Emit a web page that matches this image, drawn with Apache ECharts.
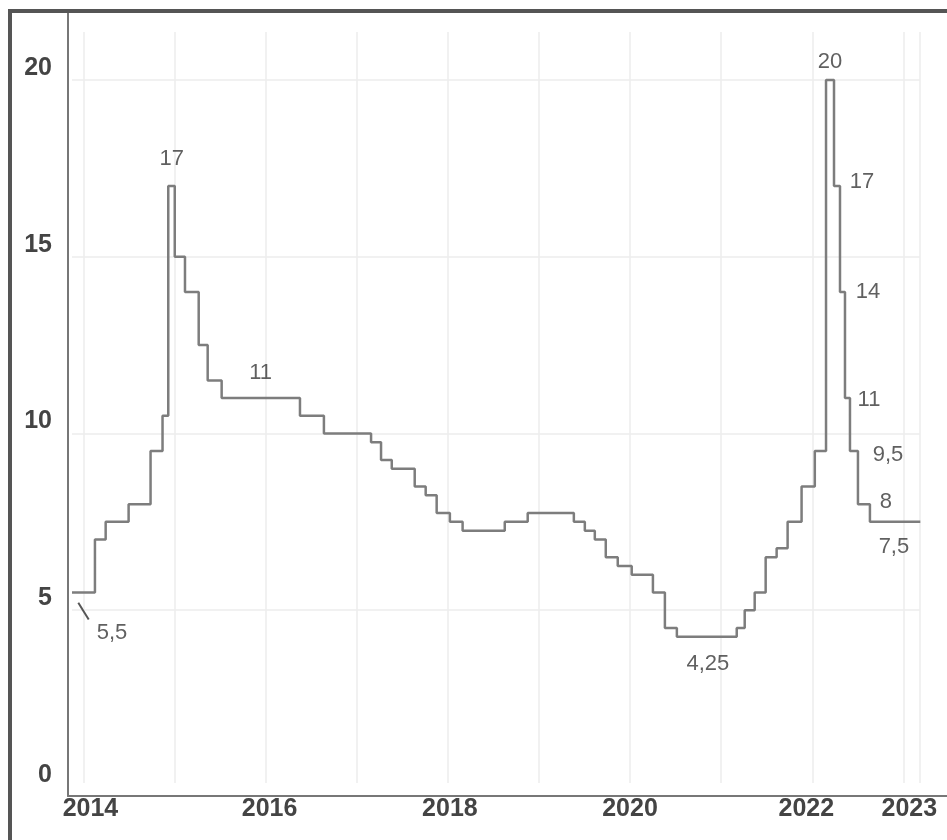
<!DOCTYPE html>
<html>
<head>
<meta charset="utf-8">
<script src="https://cdn.jsdelivr.net/npm/echarts@6/dist/echarts.min.js"></script>
<style>
html,body{margin:0;padding:0;background:#fff;}
#chart{width:947px;height:840px;}
</style>
</head>
<body>
<div id="chart"></div>
<script>
// ---- Data ----
const changeDates = ['2013-11-16','2014-02-16','2014-03-31','2014-07-01','2014-09-27','2014-11-14','2014-12-07',
  '2015-01-02','2015-02-12','2015-04-08','2015-05-14','2015-07-09','2016-05-18','2016-08-22',
  '2017-02-27','2017-04-08','2017-05-21','2017-08-21','2017-10-04','2017-11-17','2018-01-09','2018-03-01',
  '2018-08-17','2018-11-17','2019-05-21','2019-07-04','2019-08-13','2019-09-26','2019-11-13','2020-01-08',
  '2020-04-02','2020-05-20','2020-07-07','2021-03-04','2021-04-05','2021-05-15','2021-06-28','2021-08-11',
  '2021-09-24','2021-11-19','2022-01-11','2022-02-25','2022-03-29','2022-04-22','2022-05-12','2022-06-01',
  '2022-07-03','2022-08-20'];
const rateValues = [5.5,7,7.5,8,9.5,10.5,17,
  15,14,12.5,11.5,11,10.5,10,
  9.75,9.25,9,8.5,8.25,7.75,7.5,7.25,
  7.5,7.75,7.5,7.25,7,6.5,6.25,6,
  5.5,4.5,4.25,4.5,5,5.5,6.5,6.75,
  7.5,8.5,9.5,20,17,14,11,9.5,
  8,7.5];
const lastDate = '2023-03-10';
const annotatedDates = ['2013-11-16','2014-12-07','2015-07-09','2020-07-07','2022-02-25','2022-03-29',
  '2022-04-22','2022-05-12','2022-06-01','2022-07-03','2022-08-20'];
const xTickLabels = ['2014','2016','2018','2020','2022','2023'];
const yTickLabels = [0,5,10,15,20];
const gridYears = ['2014','2015','2016','2017','2018','2019','2020','2021','2022','2023'];
const gridValues = [5,10,15,20];

// ---- Styling ----
const labelOffsets = [[36,27],[3.5,-27],[39,-25],[31,27],[4,-18],[28,-4],[28,0],[24,2],[38,4],[28,-2],[24,25]];
const xLabelShift = {'2014':7,'2016':4,'2018':2,'2020':0,'2022':-6,'2023':6};
const FONT = 'Liberation Sans, Arial, sans-serif';
const AXIS_FS = 25;
const ANN_COLOR = '#383838';

const ts = s => { const p = s.split('-').map(Number); return new Date(p[0], (p[1]||1)-1, p[2]||1).getTime(); };
const fmt = v => String(v).replace('.', ',');

const lineData = changeDates.map((d,i) => [ts(d), rateValues[i]]);
lineData.push([ts(lastDate), rateValues[rateValues.length-1]]);

const annData = annotatedDates.map((d,i) => {
  const idx = changeDates.indexOf(d);
  const item = { value: [ts(d), rateValues[idx]] };
  if (i === 0) {
    item.symbolSize = 24;
    item.labelLine = { show: true };
    item.label = { padding: [0,0,0,8], backgroundColor: 'rgba(255,255,255,0.01)' };
  }
  return item;
});

const rich = {};
Object.keys(xLabelShift).forEach(k => {
  const s = xLabelShift[k];
  rich['y' + k] = { fontSize: AXIS_FS, fontWeight: 'bold', color: '#444', fontFamily: FONT,
    padding: s >= 0 ? [0,0,0,2*s] : [0,-2*s,0,0] };
});

const chart = echarts.init(document.getElementById('chart'), null, { renderer: 'canvas' });
chart.setOption({
  animation: false,
  backgroundColor: '#fff',
  graphic: [{
    type: 'rect', silent: true, z: 100,
    shape: { x: 10, y: 11, width: 1000, height: 900 },
    style: { fill: 'none', stroke: '#555', lineWidth: 4 }
  }],
  grid: [
    { left: 68, right: 0, top: 12, bottom: 44, containLabel: false },
    { left: 72, right: 27, top: 32, bottom: 57, containLabel: false }
  ],
  xAxis: [
    { type: 'value', gridIndex: 0, min: ts('2013-10-31'), max: ts('2023-06-25'),
      axisLine: { show: true, onZero: false, lineStyle: { color: '#777', width: 2 } },
      axisTick: { show: false }, splitLine: { show: false },
      axisLabel: { show: true, customValues: xTickLabels.map(y => ts(y + '-01-01')), margin: 1,
        hideOverlap: false,
        formatter: v => { const y = String(new Date(v).getFullYear()); return '{y' + y + '|' + y + '}'; },
        rich: rich }
    },
    { type: 'value', gridIndex: 1, min: ts('2013-11-16'), max: ts('2023-03-09'), show: false,
      splitLine: { show: false } }
  ],
  yAxis: [
    { type: 'value', gridIndex: 0, min: -0.255, max: 21.92,
      axisLine: { show: true, onZero: false, lineStyle: { color: '#777', width: 2 } },
      axisTick: { show: false }, splitLine: { show: false },
      axisLabel: { show: true, customValues: yTickLabels, margin: 16, fontSize: AXIS_FS, fontWeight: 'bold',
        color: '#444', fontFamily: FONT, verticalAlign: 'bottom', lineHeight: 24 }
    },
    { type: 'value', gridIndex: 1, min: 0.113, max: 21.358, show: false, splitLine: { show: false } }
  ],
  series: [
    { type: 'line', xAxisIndex: 1, yAxisIndex: 1, data: [[ts('2013-11-16'), 5]], silent: true,
      showSymbol: false, symbol: 'none', lineStyle: { opacity: 0 }, z: 0,
      markLine: {
        silent: true, symbol: ['none','none'], animation: false,
        label: { show: false },
        lineStyle: { color: '#ececec', width: 1.5, type: 'solid' },
        emphasis: { disabled: true },
        data: gridYears.map(y => ({ xAxis: ts(y + '-01-01') }))
          .concat([{ xAxis: ts('2023-03-09') }])
          .concat(gridValues.map(v => ({ yAxis: v })))
      }
    },
    { type: 'line', xAxisIndex: 0, yAxisIndex: 0, data: lineData, step: 'end',
      symbol: 'none', silent: true, z: 5,
      lineStyle: { color: '#7d7d7d', width: 2.5 } },
    { type: 'scatter', xAxisIndex: 0, yAxisIndex: 0, data: annData, symbolSize: 1, silent: true, z: 6,
      itemStyle: { color: 'rgba(0,0,0,0)', borderWidth: 0 },
      label: { show: true, position: 'inside', fontSize: 22, color: ANN_COLOR, fontFamily: FONT,
        formatter: p => p.dataIndex === 0 ? '{gap| }\n{t|' + fmt(p.value[1]) + '}' : fmt(p.value[1]),
        rich: {
          gap: { fontSize: 10, lineHeight: 26 },
          t: { fontSize: 22, lineHeight: 22, color: ANN_COLOR, fontFamily: FONT }
        } },
      labelLine: { show: false, lineStyle: { color: '#555', width: 2 }, length2: 0 },
      labelLayout: p => ({ dx: labelOffsets[p.dataIndex][0], dy: labelOffsets[p.dataIndex][1] })
    }
  ]
});
</script>
</body>
</html>
